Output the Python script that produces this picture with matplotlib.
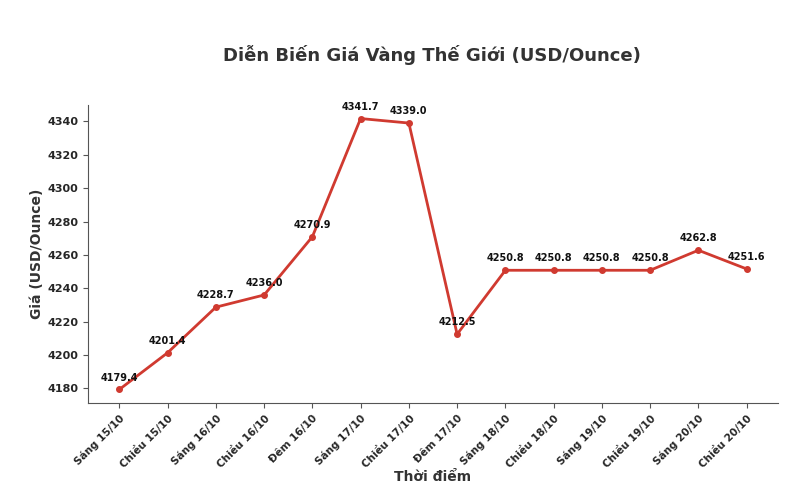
import matplotlib
matplotlib.use('Agg')
import matplotlib.pyplot as plt

times = ['Sáng 15/10', 'Chiều 15/10', 'Sáng 16/10', 'Chiều 16/10', 'Đêm 16/10',
         'Sáng 17/10', 'Chiều 17/10', 'Đêm 17/10', 'Sáng 18/10', 'Chiều 18/10',
         'Sáng 19/10', 'Chiều 19/10', 'Sáng 20/10', 'Chiều 20/10']
prices = [4179.4, 4201.4, 4228.7, 4236.0, 4270.9, 4341.7, 4339.0, 4212.5,
          4250.8, 4250.8, 4250.8, 4250.8, 4262.8, 4251.6]
yticks = [4180, 4200, 4220, 4240, 4260, 4280, 4300, 4320, 4340]

plt.rcParams['font.family'] = ['DejaVu Sans']
text_color = '#262626'

fig = plt.figure(figsize=(8, 5), dpi=100)
ax = fig.add_axes([0.11, 0.194, 0.8625, 0.596])

x = list(range(len(times)))
ax.plot(x, prices, color='#d03a30', linewidth=2.0, marker='o', markersize=4)

for i, p in zip(x, prices):
    ax.annotate(f"{p:.1f}", (i, p), xytext=(0, 5), textcoords='offset points',
                ha='center', va='bottom', fontsize=7, fontweight='bold', color='#111111')

ax.set_xticks(x)
ax.set_xticklabels(times, rotation=45, ha='right', rotation_mode='anchor',
                   fontsize=7.5, fontweight='bold', color=text_color)
ax.set_yticks(yticks)
ax.set_yticklabels([str(v) for v in yticks], fontsize=8, fontweight='bold', color=text_color)

ax.spines['top'].set_visible(False)
ax.spines['right'].set_visible(False)
for s in ['left', 'bottom']:
    ax.spines[s].set_color('#555555')
ax.tick_params(colors='#555555')
for lab in ax.get_xticklabels() + ax.get_yticklabels():
    lab.set_color(text_color)

ax.set_xlabel('Thời điểm', fontsize=10, fontweight='bold', color='#333333', labelpad=0)
ax.set_ylabel('Giá (USD/Ounce)', fontsize=10, fontweight='bold', color='#333333', labelpad=2)
fig.suptitle('Diễn Biến Giá Vàng Thế Giới (USD/Ounce)', x=0.54, y=0.91,
             fontsize=13, fontweight='bold', color='#333333')

fig.savefig('out.png', dpi=100, facecolor='white')
